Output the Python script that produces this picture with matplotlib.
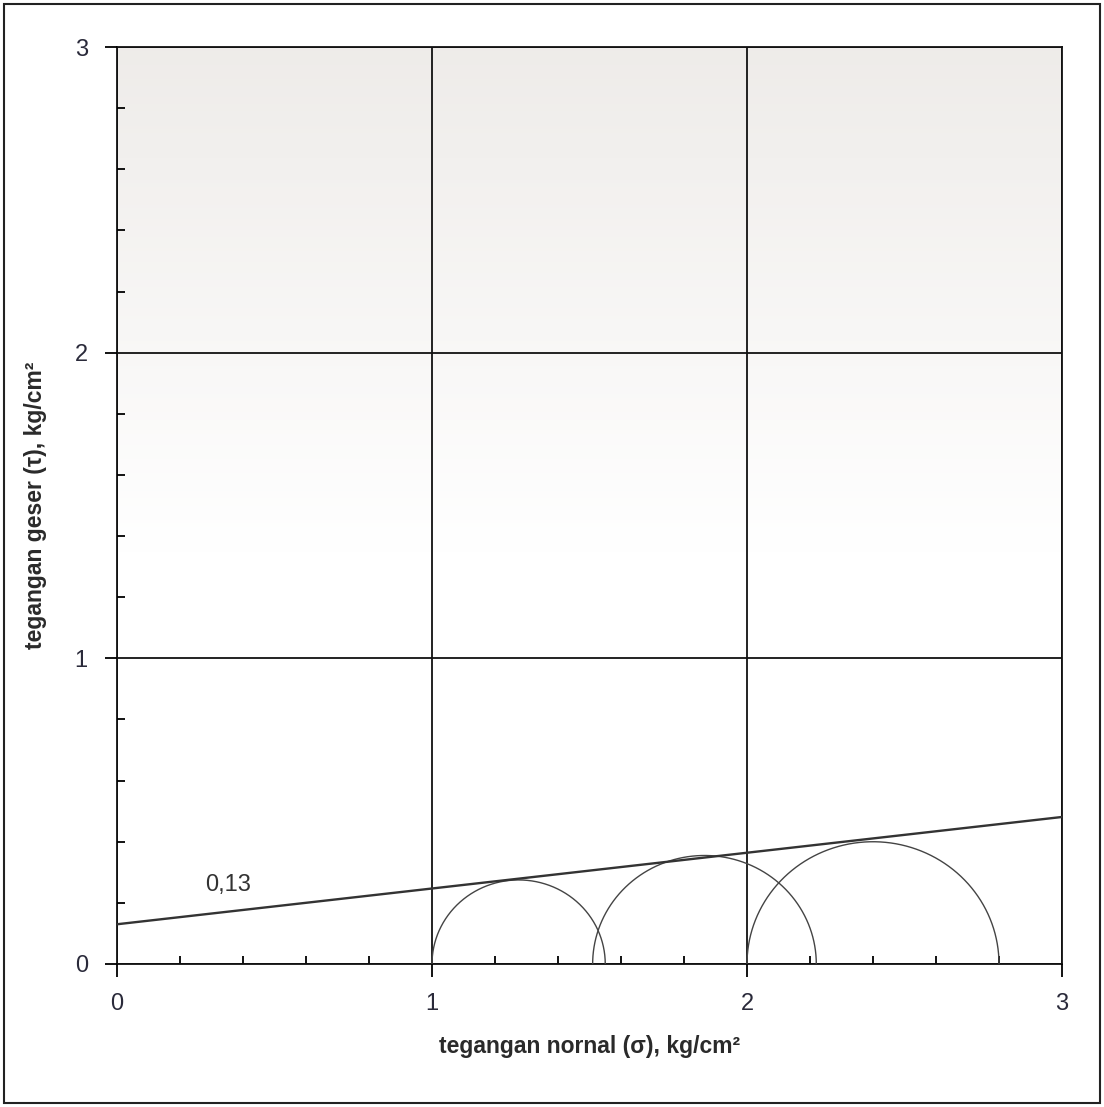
import matplotlib.pyplot as plt
import matplotlib.patches as patches
import numpy as np

# Mohr circles: sigma3 (left) and sigma1 (right) of each test, kg/cm2
sigma3 = [1.00, 1.51, 2.00]
sigma1 = [1.55, 2.22, 2.80]

# failure envelope: cohesion and slope (tan phi)
cohesion = 0.13
tan_phi = 0.117
env_x = [0.0, 3.0]

x_ticks = [0, 1, 2, 3]
y_ticks = [0, 1, 2, 3]
cohesion_label = "0,13"
xlabel = "tegangan nornal (\u03c3), kg/cm\u00b2"
ylabel = "tegangan geser (\u03c4), kg/cm\u00b2"

plt.rcParams['font.family'] = ['Liberation Sans', 'DejaVu Sans']

fig = plt.figure(figsize=(11.04, 11.07), dpi=100)
ax = fig.add_axes([117/1104, 1-964/1107, (1062-117)/1104, (964-47)/1107])

# soft grey wash at the top of the plot area
grad = np.linspace(0, 1, 256).reshape(-1, 1)
grad = np.clip((grad - 0.45) / 0.55, 0, 1)
bg = np.ones((256, 1, 3))
top_col = np.array([0.935, 0.925, 0.915])
bg = bg * (1 - grad[..., None]) + top_col * grad[..., None]
ax.imshow(bg, extent=[0, 3, 0, 3], origin='lower', aspect='auto', zorder=0)

ax.set_xlim(0, 3)
ax.set_ylim(0, 3)

for s3, s1 in zip(sigma3, sigma1):
    c = (s1 + s3) / 2
    r = (s1 - s3) / 2
    t = np.linspace(0, np.pi, 300)
    ax.plot(c + r*np.cos(t), r*np.sin(t), color='#444444', lw=1.0, zorder=3)

env_y = [cohesion + tan_phi*x for x in env_x]
ax.plot(env_x, env_y, color='#333333', lw=1.7, zorder=4)
ax.text(0.28, 0.26, cohesion_label, fontsize=17, color='#333333', va='center')

ax.set_xticks(x_ticks)
ax.set_yticks(y_ticks)
ax.set_xticks(np.arange(0, 3.01, 0.2), minor=True)
ax.set_yticks(np.arange(0, 3.01, 0.2), minor=True)
ax.tick_params(which='major', direction='out', length=9, width=1.3, labelsize=17,
               labelcolor='#2a2a3a', pad=12)
ax.tick_params(which='minor', direction='in', length=6, width=1.3)
ax.grid(True, which='major', color='#111111', lw=1.3, zorder=2)
ax.set_axisbelow(False)
for sp in ax.spines.values():
    sp.set_linewidth(1.3)
    sp.set_color('#111111')

ax.set_xlabel(xlabel, fontsize=16.5, fontweight='bold', color='#2a2a2a', labelpad=14)
ax.set_ylabel(ylabel, fontsize=16.5, fontweight='bold', color='#2a2a2a', labelpad=20)

# frame around the whole figure
fig.patches.append(patches.Rectangle((4/1104, 4/1107), 1096/1104, 1099/1107,
                                     transform=fig.transFigure, fill=False,
                                     edgecolor='#222222', lw=1.5))

fig.savefig('out.png', dpi=100)
